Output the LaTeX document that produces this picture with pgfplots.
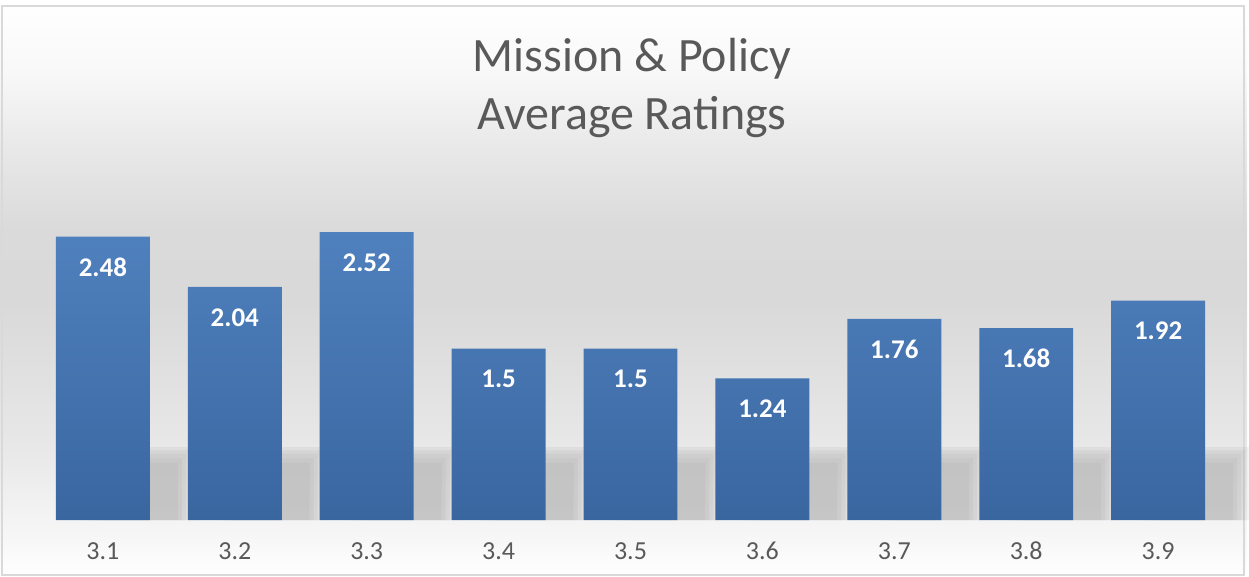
\documentclass[border=0pt]{standalone}
\usepackage{fontspec}
\setmainfont{Carlito}
\usepackage{pgfplots}
\pgfplotsset{compat=1.18}
\definecolor{titlegray}{HTML}{595959}
\definecolor{bartop}{HTML}{4F81BE}
\definecolor{barbot}{HTML}{3A66A0}
\definecolor{bordergray}{HTML}{D9D9D9}
\pgfdeclareverticalshading{bgshade}{100bp}{color(0bp)=(white); color(25bp)=(white); color(28bp)=(white!97!black); color(36bp)=(white!91!black); color(49bp)=(white!85!black); color(55bp)=(white!85.5!black); color(62bp)=(white!91!black); color(69bp)=(white!97.5!black); color(75bp)=(white); color(100bp)=(white)}
\pgfplotsset{shadowlayer/.style={ybar, bar width=0.712, draw=none, fill=black!40, fill opacity=0.12, forget plot}}
\begin{document}
\begin{tikzpicture}
% chart area background
\shade[shading=bgshade] (-18.5pt,-28pt) rectangle (606pt,260.5pt);
\draw[bordergray, line width=0.6pt] (-17.5pt,-27.5pt) rectangle (604.5pt,257.5pt);
\begin{axis}[
  at={(0,0)}, anchor=south west,
  scale only axis, width=594.5pt, height=229pt,
  xmin=-0.5, xmax=8.5, ymin=0, ymax=4,
  axis line style={draw=none},
  ytick=\empty,
  xtick={0,1,2,3,4,5,6,7,8},
  xticklabels={3.1,3.2,3.3,3.4,3.5,3.6,3.7,3.8,3.9},
  major tick length=0pt,
  xticklabel style={font=\fontsize{13}{15}\selectfont, text=titlegray, anchor=center, yshift=-15.5pt},
  /pgf/number format/assume math mode=true,
  clip=false,
]
% soft shadows behind the bars (several translucent layers)
\addplot[shadowlayer, bar shift=14pt] coordinates {(0,0.50) (1,0.50) (2,0.50) (3,0.50) (4,0.50) (5,0.50) (6,0.50) (7,0.50) (8,0.50)};
\addplot[shadowlayer, bar shift=16pt] coordinates {(0,0.54) (1,0.54) (2,0.54) (3,0.54) (4,0.54) (5,0.54) (6,0.54) (7,0.54) (8,0.54)};
\addplot[shadowlayer, bar shift=18pt] coordinates {(0,0.58) (1,0.58) (2,0.58) (3,0.58) (4,0.58) (5,0.58) (6,0.58) (7,0.58) (8,0.58)};
\addplot[shadowlayer, bar shift=20pt] coordinates {(0,0.61) (1,0.61) (2,0.61) (3,0.61) (4,0.61) (5,0.61) (6,0.61) (7,0.61) (8,0.61)};
\addplot[shadowlayer, bar shift=22pt] coordinates {(0,0.64) (1,0.64) (2,0.64) (3,0.64) (4,0.64) (5,0.64) (6,0.64) (7,0.64) (8,0.64)};
% bars
\addplot[ybar, bar width=0.712, bar shift=0pt, draw=none, top color=bartop, bottom color=barbot,
  nodes near coords,
  every node near coord/.append style={font=\bfseries\fontsize{13.5}{15}\selectfont, text=white, anchor=center, yshift=-15.25pt}]
  coordinates {(0,2.48) (1,2.04) (2,2.52) (3,1.5) (4,1.5) (5,1.24) (6,1.76) (7,1.68) (8,1.92)};
\end{axis}
\node[anchor=base, text=titlegray, font=\fontsize{24}{28}\selectfont] at (298pt,224.5pt) {Mission \& Policy};
\node[anchor=base, text=titlegray, font=\fontsize{24}{28}\selectfont] at (298pt,195.5pt) {Average Ratings};
\end{tikzpicture}
\end{document}
